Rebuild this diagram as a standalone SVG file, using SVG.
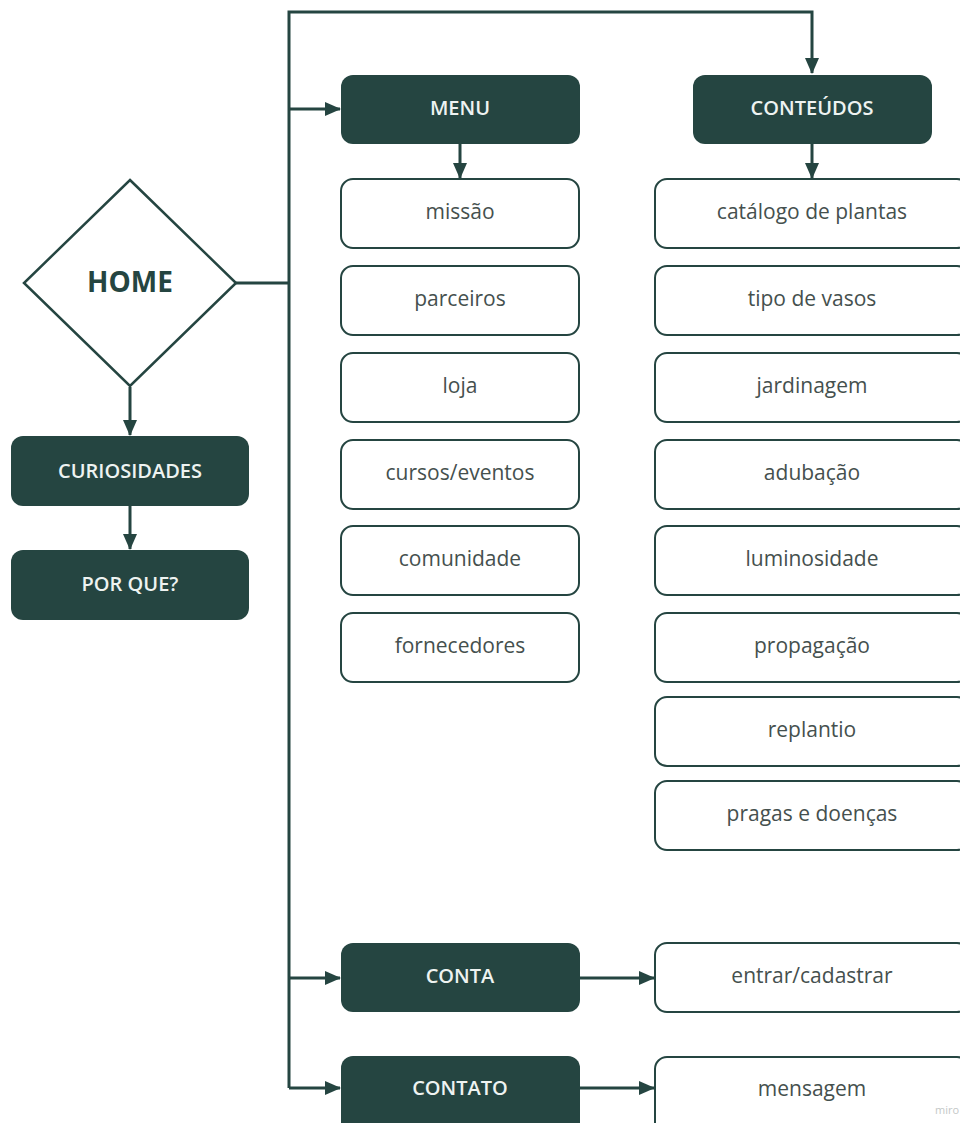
<svg xmlns="http://www.w3.org/2000/svg" width="960" height="1123" viewBox="0 0 960 1123">
<style>
.dark{fill:#254541;}
.light{fill:#ffffff;stroke:#254541;stroke-width:2;}
.dt{font-family:"Open Sans",sans-serif;font-size:20px;font-weight:600;fill:#eef3f1;text-anchor:middle;dominant-baseline:central;}
.lt{font-family:"Open Sans",sans-serif;font-size:21px;fill:#45504e;text-anchor:middle;dominant-baseline:central;}
.c{fill:none;stroke:#254541;stroke-width:3;}
</style>
<defs>
<marker id="ahb" markerWidth="16" markerHeight="16" refX="15" refY="8" orient="auto" markerUnits="userSpaceOnUse" viewBox="0 0 16 16">
<path d="M0,1 L16,8 L0,15 z" fill="#254541"/>
</marker>
</defs>
<rect width="960" height="1123" fill="#ffffff"/>
<g id="connectors">
<path class="c" d="M236,283 H289"/>
<path class="c" d="M289,1088 V12 H812 V73" marker-end="url(#ahb)"/>
<path class="c" d="M289,109 H340" marker-end="url(#ahb)"/>
<path class="c" d="M289,978 H340" marker-end="url(#ahb)"/>
<path class="c" d="M289,1088 H340" marker-end="url(#ahb)"/>
<path class="c" d="M460,144 V178" marker-end="url(#ahb)"/>
<path class="c" d="M812,144 V178" marker-end="url(#ahb)"/>
<path class="c" d="M580,978 H654" marker-end="url(#ahb)"/>
<path class="c" d="M580,1088 H654" marker-end="url(#ahb)"/>
<path class="c" d="M130,387 V435" marker-end="url(#ahb)"/>
<path class="c" d="M130,506 V549" marker-end="url(#ahb)"/>
</g>
<g id="home">
<polygon points="130,180 236,283 130,386 24,283" fill="#ffffff" stroke="#254541" stroke-width="2.5"/>
<text x="130" y="281" font-family="'Open Sans',sans-serif" font-size="28" font-weight="bold" fill="#254541" text-anchor="middle" dominant-baseline="central">HOME</text>
</g>
<g id="curiosidades"><rect class="dark" x="11" y="436" width="238" height="70" rx="12"/><text class="dt" x="130" y="470">CURIOSIDADES</text></g>
<g id="porque"><rect class="dark" x="11" y="550" width="238" height="70" rx="12"/><text class="dt" x="130" y="583">POR QUE?</text></g>
<g id="menu"><rect class="dark" x="341" y="75" width="239" height="69" rx="12"/><text class="dt" x="460" y="107">MENU</text></g>
<g id="conteudos"><rect class="dark" x="693" y="75" width="239" height="69" rx="12"/><text class="dt" x="812" y="107">CONTEÚDOS</text></g>
<g id="missao"><rect class="light" x="341" y="179" width="238" height="69" rx="12"/><text class="lt" x="460" y="211">missão</text></g>
<g id="parceiros"><rect class="light" x="341" y="266" width="238" height="69" rx="12"/><text class="lt" x="460" y="298">parceiros</text></g>
<g id="loja"><rect class="light" x="341" y="353" width="238" height="69" rx="12"/><text class="lt" x="460" y="385">loja</text></g>
<g id="cursos"><rect class="light" x="341" y="440" width="238" height="69" rx="12"/><text class="lt" x="460" y="472">cursos/eventos</text></g>
<g id="comunidade"><rect class="light" x="341" y="526" width="238" height="69" rx="12"/><text class="lt" x="460" y="558">comunidade</text></g>
<g id="fornecedores"><rect class="light" x="341" y="613" width="238" height="69" rx="12"/><text class="lt" x="460" y="645">fornecedores</text></g>
<g id="catalogo"><rect class="light" x="655" y="179" width="314" height="69" rx="12"/><text class="lt" x="812" y="211">catálogo de plantas</text></g>
<g id="vasos"><rect class="light" x="655" y="266" width="314" height="69" rx="12"/><text class="lt" x="812" y="298">tipo de vasos</text></g>
<g id="jardinagem"><rect class="light" x="655" y="353" width="314" height="69" rx="12"/><text class="lt" x="812" y="385">jardinagem</text></g>
<g id="adubacao"><rect class="light" x="655" y="440" width="314" height="69" rx="12"/><text class="lt" x="812" y="472">adubação</text></g>
<g id="luminosidade"><rect class="light" x="655" y="526" width="314" height="69" rx="12"/><text class="lt" x="812" y="558">luminosidade</text></g>
<g id="propagacao"><rect class="light" x="655" y="613" width="314" height="69" rx="12"/><text class="lt" x="812" y="645">propagação</text></g>
<g id="replantio"><rect class="light" x="655" y="697" width="314" height="69" rx="12"/><text class="lt" x="812" y="729">replantio</text></g>
<g id="pragas"><rect class="light" x="655" y="781" width="314" height="69" rx="12"/><text class="lt" x="812" y="813">pragas e doenças</text></g>
<g id="conta"><rect class="dark" x="341" y="943" width="239" height="69" rx="12"/><text class="dt" x="460" y="975">CONTA</text></g>
<g id="entrar"><rect class="light" x="655" y="943" width="314" height="69" rx="12"/><text class="lt" x="812" y="975">entrar/cadastrar</text></g>
<g id="contato"><rect class="dark" x="341" y="1056" width="239" height="80" rx="12"/><text class="dt" x="460" y="1087">CONTATO</text></g>
<g id="mensagem"><rect class="light" x="655" y="1057" width="314" height="80" rx="12"/><text class="lt" x="812" y="1088">mensagem</text></g>
<text x="935" y="1114" font-family="'Open Sans',sans-serif" font-size="11" fill="#c4c8c7">miro</text>
</svg>
